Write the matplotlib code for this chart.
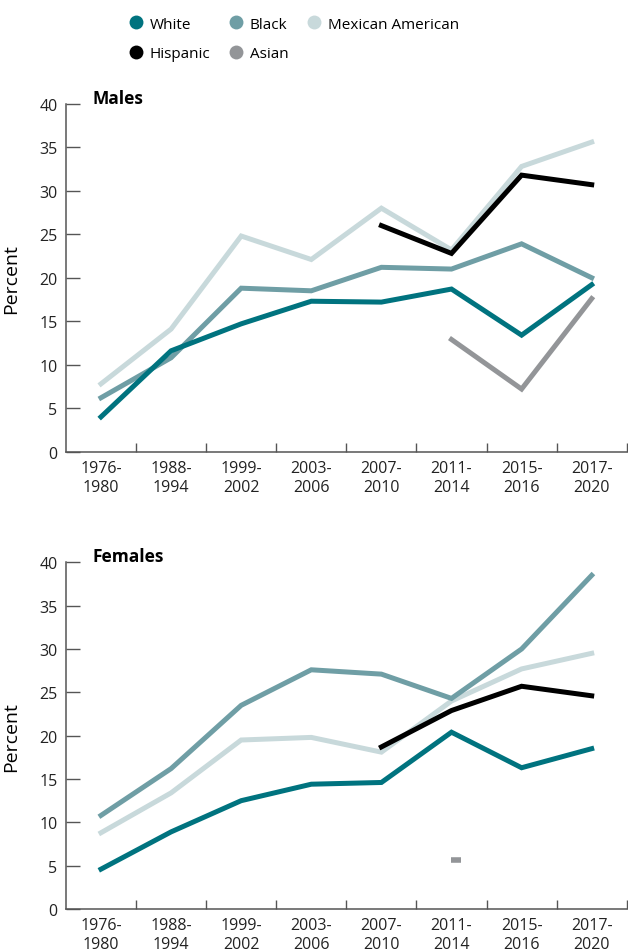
import numpy as np
import matplotlib
matplotlib.use('Agg')
import matplotlib.pyplot as plt
from matplotlib.lines import Line2D

# (0) Data
periods = ['1976-\n1980', '1988-\n1994', '1999-\n2002', '2003-\n2006',
           '2007-\n2010', '2011-\n2014', '2015-\n2016', '2017-\n2020']
nan = np.nan

male_white    = [4.0, 11.6, 14.7, 17.3, 17.2, 18.7, 13.4, 19.2]
male_black    = [6.2, 10.8, 18.8, 18.5, 21.2, 21.0, 23.9, 20.0]
male_mexican  = [7.8, 14.1, 24.8, 22.1, 28.0, 23.2, 32.8, 35.6]
male_hispanic = [nan, nan, nan, nan, 26.0, 22.8, 31.8, 30.7]
male_asian    = [nan, nan, nan, nan, nan, 12.9, 7.2, 17.6]

female_white    = [4.6, 8.9, 12.5, 14.4, 14.6, 20.4, 16.3, 18.5]
female_black    = [10.8, 16.2, 23.5, 27.6, 27.1, 24.3, 30.0, 38.5]
female_mexican  = [8.8, 13.4, 19.5, 19.8, 18.1, 24.0, 27.7, 29.5]
female_hispanic = [nan, nan, nan, nan, 18.7, 22.9, 25.7, 24.6]
female_asian    = [nan, nan, nan, nan, nan, 5.6, nan, nan]

colors = {'White': '#00737f', 'Black': '#6f9ea5', 'Mexican American': '#c8d9db',
          'Hispanic': '#000000', 'Asian': '#939598'}

males = {'Mexican American': male_mexican, 'Black': male_black, 'White': male_white,
         'Hispanic': male_hispanic, 'Asian': male_asian}
females = {'Mexican American': female_mexican, 'Black': female_black, 'White': female_white,
           'Hispanic': female_hispanic, 'Asian': female_asian}

font = ['Open Sans', 'DejaVu Sans']
plt.rcParams['font.family'] = font
axis_col = '#555555'

# (1) Plot
fig = plt.figure(figsize=(6.28, 9.53), dpi=100)
ax_m = fig.add_axes([0.105, 0.525, 0.893, 0.365])
ax_f = fig.add_axes([0.105, 0.0451, 0.893, 0.3638])

x = np.arange(len(periods)) + 0.5

for ax, data, title in [(ax_m, males, 'Males'), (ax_f, females, 'Females')]:
    for g, vals in data.items():
        vals = np.array(vals, dtype=float)
        if np.sum(~np.isnan(vals)) == 1:
            # lone estimate drawn as a short dash
            ax.plot(x + 0.06, vals, ls='none', marker='_', ms=7, mew=4, color=colors[g])
        else:
            ax.plot(x, vals, lw=3.6, color=colors[g], solid_joinstyle='miter')
    ax.set_xlim(0, len(periods))
    ax.set_ylim(0, 40)
    ax.set_yticks(range(0, 41, 5))
    ax.set_xticks(np.arange(1, len(periods) + 1), minor=True)
    ax.set_xticks(x)
    ax.set_xticklabels(periods, fontsize=11.5, linespacing=1.25)
    for lab in ax.get_yticklabels():
        lab.set_fontsize(11.5)
    ax.tick_params(axis='x', which='major', length=0, pad=6, colors='#222222')
    ax.tick_params(axis='x', which='minor', length=6.5, direction='in', width=1, color=axis_col)
    ax.tick_params(axis='y', length=10, direction='in', width=1, color=axis_col,
                   pad=6, labelcolor='#222222')
    for s in ['top', 'right']:
        ax.spines[s].set_visible(False)
    for s in ['left', 'bottom']:
        ax.spines[s].set_color(axis_col)
        ax.spines[s].set_linewidth(1.1)
    ax.set_ylabel('Percent', fontsize=14)
    ax.yaxis.set_label_coords(-0.082, 0.5)
    ax.text(0.048, 1.017, title, transform=ax.transAxes, fontsize=12.5, fontweight='bold',
            va='center', ha='left')

order = ['White', 'Hispanic', 'Black', 'Asian', 'Mexican American']
handles = [Line2D([], [], ls='none', marker='o', ms=10, mec='none', color=colors[g])
           for g in order]
fig.legend(handles, order, loc='upper left', bbox_to_anchor=(0.183, 0.995), ncol=3,
           frameon=False, prop={'size': 11}, handletextpad=0.4,
           columnspacing=1.2, labelspacing=0.95, borderpad=0.35, handlelength=1.0)

fig.savefig('out.png', dpi=100)
